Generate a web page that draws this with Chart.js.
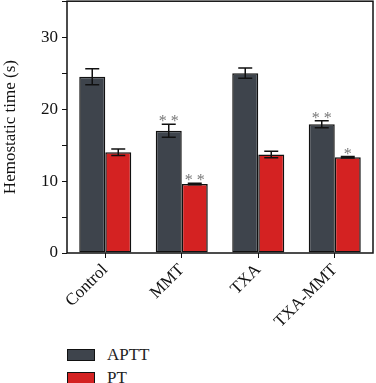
<!DOCTYPE html>
<html>
<head>
<meta charset="utf-8">
<script src="https://cdn.jsdelivr.net/npm/chart.js@4/dist/chart.umd.min.js"></script>
<style>
    body { margin: 0; background: #fff; }
    #wrap { position: relative; width: 376px; height: 383px; overflow: hidden; }
    #chart1 { position: absolute; left: 0; top: -13px; }
    #legend { position: absolute; left: 67px; top: 343px; font-family: "Liberation Serif", serif; font-size: 17px; color: #222; }
    .item { display: flex; align-items: center; height: 23px; }
    .box { width: 26px; height: 10px; border: 1px solid #111; margin-right: 12px; }
</style>
</head>
<body>
<div id="wrap">
    <canvas id="chart1" width="376" height="353" style="width:376px;height:353px"></canvas>
    <div id="legend"></div>
</div>
<script>
    const groups = ['Control', 'MMT', 'TXA', 'TXA-MMT'];
    const seriesNames = ['APTT', 'PT'];
    const colors = ['#3e444c', '#d42222'];
    const apttMean = [24.5, 17.0, 25.0, 17.9];
    const apttErr = [1.1, 0.9, 0.7, 0.5];
    const ptMean = [14.0, 9.6, 13.7, 13.3];
    const ptErr = [0.45, 0.1, 0.45, 0.1];
    const apttStars = ['', '**', '', '**'];
    const ptStars = ['', '**', '', '*'];

    const errors = [apttErr, ptErr];
    const stars = [apttStars, ptStars];
    const serif = '"Liberation Serif", serif';

    // error bars + significance marks
    const errorBars = {
        id: 'errorBars',
        afterDatasetsDraw(chart) {
            const ctx = chart.ctx;
            const y = chart.scales.y;
            ctx.save();
            chart.data.datasets.forEach((ds, di) => {
                const meta = chart.getDatasetMeta(di);
                meta.data.forEach((bar, i) => {
                    const v = ds.data[i];
                    const e = errors[di][i];
                    const top = y.getPixelForValue(v + e);
                    const bot = y.getPixelForValue(v - e);
                    ctx.strokeStyle = '#111';
                    ctx.lineWidth = 1.5;
                    ctx.beginPath();
                    ctx.moveTo(bar.x, top); ctx.lineTo(bar.x, bot);
                    ctx.moveTo(bar.x - 7, top); ctx.lineTo(bar.x + 7, top);
                    ctx.moveTo(bar.x - 7, bot); ctx.lineTo(bar.x + 7, bot);
                    ctx.stroke();
                    if (stars[di][i]) {
                        ctx.fillStyle = '#777';
                        ctx.font = '16px ' + serif;
                        ctx.textAlign = 'center';
                        ctx.textBaseline = 'bottom';
                        ctx.fillText(stars[di][i].split('').join(' '), bar.x, top + 6);
                    }
                });
            });
            // frame
            const a = chart.chartArea;
            ctx.strokeStyle = '#111';
            ctx.lineWidth = 1.5;
            ctx.strokeRect(a.left, a.top, a.right - a.left, a.bottom - a.top);
            ctx.restore();
        }
    };

    const chart = new Chart(document.getElementById('chart1').getContext('2d'), {
        type: 'bar',
        data: {
            labels: groups,
            datasets: [apttMean, ptMean].map((d, i) => ({
                label: seriesNames[i],
                data: d,
                backgroundColor: colors[i],
                borderColor: '#111',
                borderWidth: 1.5,
                borderSkipped: false,
                categoryPercentage: 0.68,
                barPercentage: 1
            }))
        },
        options: {
            responsive: false,
            animation: false,
            layout: { padding: { top: 1, right: 3 } },
            plugins: {
                legend: { display: false },
                tooltip: { enabled: false }
            },
            scales: {
                x: {
                    afterFit: s => { s.height = 87; },
                    grid: { drawOnChartArea: false, offset: false, tickLength: 5, tickColor: '#111', color: '#111' },
                    border: { display: false },
                    ticks: { color: '#111', font: { family: serif, size: 17 }, maxRotation: 45, minRotation: 45, padding: 2 }
                },
                y: {
                    min: 0, max: 35,
                    afterFit: s => { s.width = 67; },
                    grid: { drawOnChartArea: false, tickLength: 5, tickColor: '#111' },
                    border: { display: false },
                    ticks: {
                        stepSize: 5,
                        color: '#111',
                        font: { family: serif, size: 17 },
                        padding: 4,
                        callback: v => (v % 10 === 0 && v <= 30) ? v : ''
                    },
                    title: { display: true, text: 'Hemostatic time (s)', color: '#111', font: { family: serif, size: 17 }, padding: 0 }
                }
            }
        },
        plugins: [errorBars]
    });

    const legend = document.getElementById('legend');
    seriesNames.forEach((n, i) => {
        const row = document.createElement('div');
        row.className = 'item';
        row.innerHTML = '<span class="box" style="background:' + colors[i] + '"></span>' + n;
        legend.appendChild(row);
    });
</script>
</body>
</html>
